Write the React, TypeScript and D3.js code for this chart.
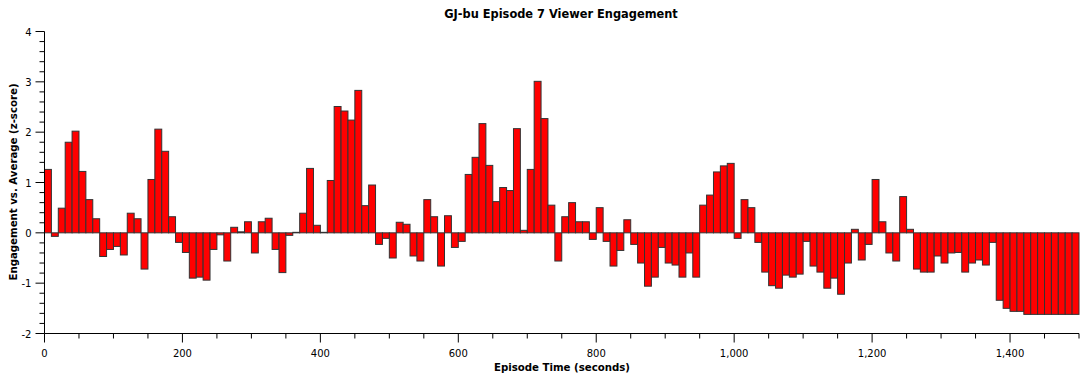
import React from "react";
import * as d3 from "d3";

const TITLE = "GJ-bu Episode 7 Viewer Engagement";
const X_LABEL = "Episode Time (seconds)";
const Y_LABEL = "Engagement vs. Average (z-score)";
const BIN_SECONDS = 10;
const X_TICKS = [0, 200, 400, 600, 800, 1000, 1200, 1400];
const Y_TICKS = [-2, -1, 0, 1, 2, 3, 4];

// z-score per 10-second bin, starting at 0s
const engagement = [
  1.26, -0.07, 0.49, 1.8, 2.02, 1.22, 0.66, 0.28, -0.47, -0.33,
  -0.27, -0.44, 0.39, 0.28, -0.72, 1.06, 2.06, 1.62, 0.32, -0.19,
  -0.39, -0.9, -0.88, -0.94, -0.33, -0.04, -0.56, 0.11, 0.02, 0.22,
  -0.4, 0.22, 0.29, -0.33, -0.79, -0.05, 0.01, 0.39, 1.28, 0.15,
  0.01, 1.04, 2.51, 2.42, 2.24, 2.83, 0.54, 0.95, -0.23, -0.11,
  -0.5, 0.21, 0.17, -0.46, -0.56, 0.66, 0.32, -0.66, 0.34, -0.29,
  -0.17, 1.16, 1.5, 2.17, 1.34, 0.62, 0.9, 0.84, 2.07, 0.05,
  1.26, 3.01, 2.27, 0.55, -0.56, 0.32, 0.6, 0.22, 0.22, -0.13,
  0.5, -0.17, -0.66, -0.35, 0.26, -0.23, -0.6, -1.06, -0.88, -0.29,
  -0.6, -0.64, -0.88, -0.4, -0.88, 0.55, 0.75, 1.21, 1.33, 1.38,
  -0.11, 0.66, 0.5, -0.19, -0.78, -1.05, -1.1, -0.84, -0.88, -0.82,
  -0.17, -0.66, -0.78, -1.1, -0.9, -1.22, -0.6, 0.07, -0.54, -0.23,
  1.06, 0.22, -0.4, -0.56, 0.72, 0.07, -0.72, -0.78, -0.78, -0.46,
  -0.6, -0.4, -0.39, -0.78, -0.6, -0.54, -0.64, -0.19, -1.34, -1.5,
  -1.56, -1.56, -1.62, -1.62, -1.62, -1.62, -1.62, -1.62, -1.62, -1.62,
];

const W = 1089;
const H = 380;
const FONT = "'DejaVu Sans', Verdana, sans-serif";

export default function App() {
  const x = d3.scaleLinear().domain([0, 1500]).range([44.5, 1079]);
  const y = d3.scaleLinear().domain([-2, 4]).range([333.5, 31.5]);
  const fmt = d3.format(",");
  const xMinor = d3.range(0, 1501, 50).filter((v) => v % 200 !== 0);
  const yMinor = d3.range(-2, 4.001, 0.2).filter((v) => Math.abs(v - Math.round(v)) > 1e-6);
  const x0 = x(0);
  const yBase = y(-2);

  return (
    <svg
      width={W}
      height={H}
      style={{ position: "absolute", left: 0, top: 0, background: "#fff" }}
      fontFamily={FONT}
    >
      <text x={561} y={18} textAnchor="middle" fontSize={11.4} fontWeight="bold" fill="#000">
        {TITLE}
      </text>
      {engagement.map((v, i) => {
        const t0 = i * BIN_SECONDS;
        const xa = x(t0);
        const xb = x(t0 + BIN_SECONDS);
        const ya = y(Math.max(v, 0));
        const yb = y(Math.min(v, 0));
        return (
          <rect
            key={i}
            x={xa}
            y={ya}
            width={xb - xa}
            height={Math.max(yb - ya, 0.5)}
            fill="#ff0000"
            stroke="#333"
            strokeWidth={1}
          />
        );
      })}
      {/* y axis */}
      <line x1={x0} x2={x0} y1={y(4)} y2={yBase} stroke="#000" />
      {Y_TICKS.map((t) => (
        <g key={t}>
          <line x1={x0 - 9} x2={x0} y1={y(t)} y2={y(t)} stroke="#000" />
          <text x={x0 - 13} y={y(t) + 4} textAnchor="end" fontSize={10} fill="#000">
            {t}
          </text>
        </g>
      ))}
      {yMinor.map((t, i) => (
        <line key={i} x1={x0 - 5} x2={x0} y1={y(t)} y2={y(t)} stroke="#000" />
      ))}
      {/* x axis */}
      <line x1={x0} x2={x(1500)} y1={yBase} y2={yBase} stroke="#000" />
      {X_TICKS.map((t) => (
        <g key={t}>
          <line x1={x(t)} x2={x(t)} y1={yBase} y2={yBase + 9} stroke="#000" />
          <text x={x(t)} y={yBase + 23} textAnchor="middle" fontSize={10} fill="#000">
            {fmt(t)}
          </text>
        </g>
      ))}
      {xMinor.map((t) => (
        <line key={t} x1={x(t)} x2={x(t)} y1={yBase} y2={yBase + 5} stroke="#000" />
      ))}
      <text x={562} y={371} textAnchor="middle" fontSize={10.2} fontWeight="bold" fill="#000">
        {X_LABEL}
      </text>
      <text
        transform={`translate(17, 182) rotate(-90)`}
        textAnchor="middle"
        fontSize={10.2}
        fontWeight="bold"
        fill="#000"
      >
        {Y_LABEL}
      </text>
    </svg>
  );
}
